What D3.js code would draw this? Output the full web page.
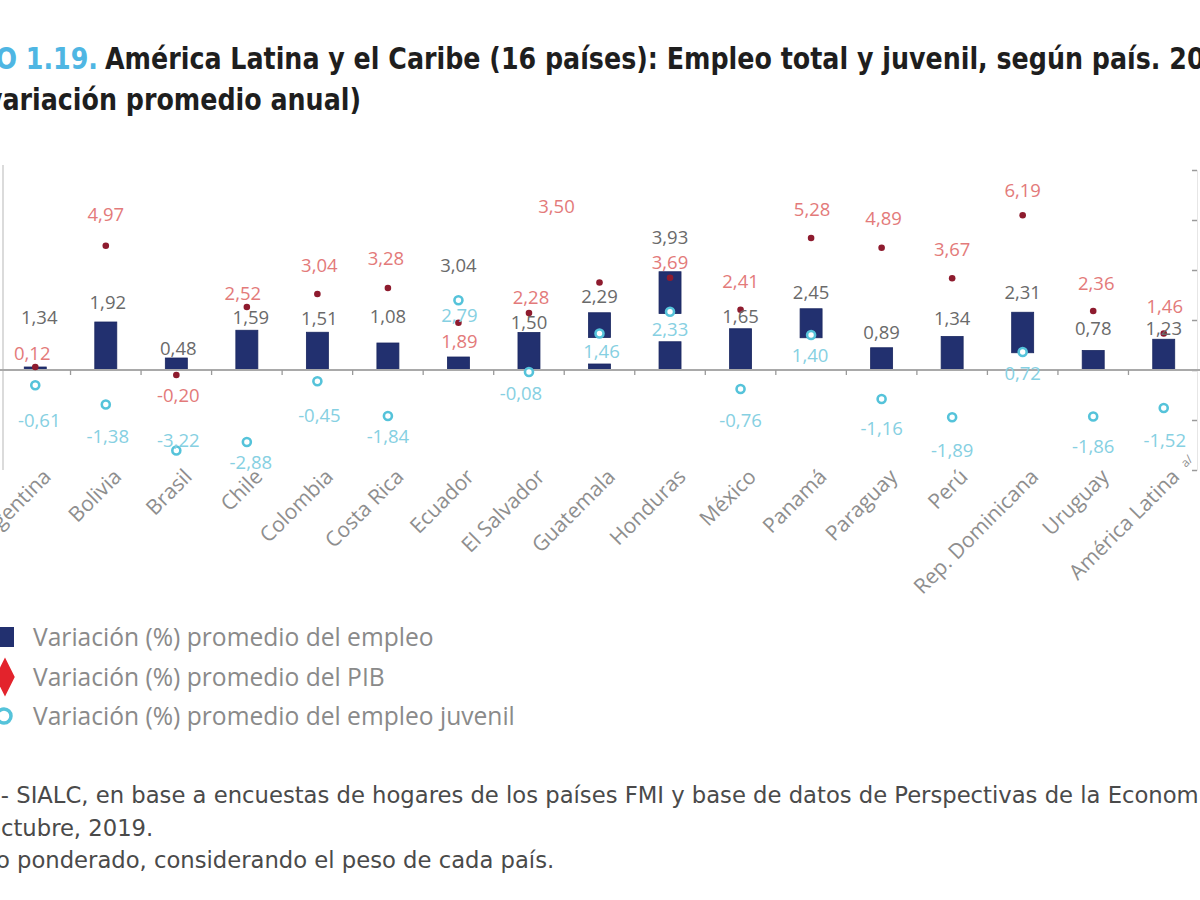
<!DOCTYPE html>
<html lang="es">
<head>
<meta charset="utf-8">
<script src="https://cdn.jsdelivr.net/npm/d3@7/dist/d3.min.js"></script>
<style>
  html, body { margin: 0; padding: 0; background: #fff; overflow: hidden; }
  svg { display: block; }
</style>
</head>
<body>
<svg id="chart" width="1200" height="900"></svg>
<script>
// ---------------- DATA ----------------
const paises = ["Argentina","Bolivia","Brasil","Chile","Colombia","Costa Rica","Ecuador","El Salvador","Guatemala","Honduras","México","Panamá","Paraguay","Perú","Rep. Dominicana","Uruguay","América Latina"];
// Variación (%) promedio del empleo (etiquetas)
const empleo = [1.34,1.92,0.48,1.59,1.51,1.08,3.04,1.50,2.29,3.93,1.65,2.45,0.89,1.34,2.31,0.78,1.23];
// Variación (%) promedio del PIB
const pib = [0.12,4.97,-0.20,2.52,3.04,3.28,1.89,2.28,3.50,3.69,2.41,5.28,4.89,3.67,6.19,2.36,1.46];
// Variación (%) promedio del empleo juvenil
const juvenil = [-0.61,-1.38,-3.22,-2.88,-0.45,-1.84,2.79,-0.08,1.46,2.33,-0.76,1.40,-1.16,-1.89,0.72,-1.86,-1.52];
// Tramos de barra visibles en la figura (valores desde / hasta)
const tramosBarra = [
  [[0,0.12]], [[0,1.92]], [[0,0.48]], [[0,1.59]], [[0,1.51]], [[0,1.08]], [[0,0.52]], [[0,1.50]],
  [[0,0.24],[1.30,2.29]], [[0,1.13],[2.26,3.93]], [[0,1.65]], [[1.29,2.45]], [[0,0.89]], [[0,1.34]],
  [[0.69,2.31]], [[0,0.78]], [[0,1.23]]
];
const ticksY = [-4,-2,0,2,4,6,8];
const leyenda = ["Variación (%) promedio del empleo","Variación (%) promedio del PIB","Variación (%) promedio del empleo juvenil"];

// ---------------- LAYOUT (label offsets, px from marker) ----------------
const dyEmpleo  = [-19,-20,-10,-13,-14,-27,-29,-10,-16,-34,-12,-16,-15,-18,-20,-22,-11];
const dxEmpleo  = [4,2,2,4,2,0,0,0,0,0,0,0,0,0,0,0,0];
const dyPib     = [-14,-31,20,-14,-29,-30,19,-16,-76,-15,-28,-29,-29,-29,-25,-28,-27];
const dxPib     = [-3,0,2,-4,2,-2,1,2,-43,0,0,1,2,0,0,3,1];
const dyJuvenil = [35,32,-10,20,34,20,15,21,18,18,31,20,29,33,21,30,32];
const dxJuvenil = [4,2,2,4,2,0,1,-8,2,0,0,-1,0,0,0,0,1];

const svg = d3.select("#chart");
const fmt = d3.formatLocale({decimal:",", thousands:".", grouping:[3], currency:["",""], minus:"-"}).format(".2f");

const x = d3.scaleBand().domain(paises).range([0, 1199]).padding(0);
const y = d3.scaleLinear().domain([-4, 8]).range([470, 170]);
const cx = p => x(p) + x.bandwidth() / 2;
const barW = 22;

const C = {
  bar: "#22306f", pibDot: "#8e1b2e", pibLbl: "#e37a7a", juv: "#55c3da", juvLbl: "#86d0e2",
  empLbl: "#6a6a6a", axis: "#a9a9a9", cat: "#8e8e8e", leg: "#8a8a8a"
};
const numFont = "'Open Sans', 'DejaVu Sans', sans-serif";
const condFont = "'DejaVu Sans Condensed', 'DejaVu Sans', sans-serif";

// text squeezed horizontally so that a prefix spans a target width
function squeezed(parent, opts) {
  const gg = parent.append("g");
  const t = gg.append("text").attr("x", 0).attr("y", 0)
    .attr("font-family", opts.family).attr("font-weight", opts.weight || "normal")
    .attr("font-size", opts.size).attr("fill", opts.fill)
    .attr("text-anchor", opts.anchor || "start").text(opts.text);
  const n = t.node();
  const a = opts.prefixStart || 0;
  const len = (opts.prefixEnd == null ? opts.text.length : opts.prefixEnd) - a;
  const w = n.getSubStringLength(a, len);
  const sx = opts.width / w;
  const off = a > 0 ? n.getSubStringLength(0, a) * sx : 0;
  gg.attr("transform", `translate(${opts.x - off},${opts.y}) scale(${sx},1)`);
  return {g: gg, sx};
}

// ---------------- TITLE ----------------
const t1txt = "América Latina y el Caribe (16 países): Empleo total y juvenil, según país. 2012-2019";
const T1 = squeezed(svg, {text: t1txt, family: condFont, weight: "bold", size: 31, fill: "#1e1e1e",
  x: 105, y: 69, prefixEnd: t1txt.indexOf("2012") + 2, width: 1100});
const bl = svg.append("g").attr("transform", `translate(98,69) scale(${T1.sx},1)`);
bl.append("text").attr("text-anchor", "end").attr("font-family", condFont).attr("font-weight", "bold")
  .attr("font-size", 31).attr("fill", "#4fb6e3").text("GRÁFICO 1.19.");
const t2 = svg.append("g").attr("transform", `translate(361,110) scale(${T1.sx},1)`);
t2.append("text").attr("text-anchor", "end").attr("font-family", condFont).attr("font-weight", "bold")
  .attr("font-size", 31).attr("fill", "#1e1e1e").text("(tasas de variación promedio anual)");

// ---------------- AXES ----------------
const g = svg.append("g");
g.append("line").attr("x1", 3).attr("x2", 3).attr("y1", y(8) - 5).attr("y2", y(-4))
  .attr("stroke", "#cfcfcf").attr("stroke-width", 1.5);
const ax = g.append("g").attr("transform", "translate(1197,0)")
  .call(d3.axisLeft(y).tickValues(ticksY).tickSize(5).tickFormat(""));
ax.select(".domain").attr("stroke", "#e6e6e6");
ax.selectAll(".tick line").attr("stroke", "#9a9a9a").attr("stroke-width", 1.5);

// ---------------- BARS ----------------
const segs = [];
paises.forEach((p, i) => tramosBarra[i].forEach(s => segs.push({p, a: s[0], b: s[1]})));
g.append("g").selectAll("rect").data(segs).join("rect")
  .attr("x", d => cx(d.p) - barW / 2)
  .attr("width", barW)
  .attr("y", d => y(d.b))
  .attr("height", d => y(d.a) - y(d.b))
  .attr("fill", C.bar).attr("stroke", "#1a2760").attr("stroke-width", 0.8);

// zero line with category ticks
g.append("line").attr("x1", 0).attr("x2", 1200).attr("y1", y(0)).attr("y2", y(0))
  .attr("stroke", C.axis).attr("stroke-width", 2);
g.append("g").selectAll("line").data(paises.slice(1)).join("line")
  .attr("x1", d => x(d)).attr("x2", d => x(d))
  .attr("y1", y(0)).attr("y2", y(0) + 5)
  .attr("stroke", "#9a9a9a").attr("stroke-width", 1.3);

// ---------------- POINTS ----------------
g.append("g").selectAll("circle").data(paises).join("circle")
  .attr("cx", d => cx(d)).attr("cy", (d, i) => y(juvenil[i]))
  .attr("r", 4).attr("fill", "#ffffff").attr("stroke", C.juv).attr("stroke-width", 2.6);
g.append("g").selectAll("circle").data(paises).join("circle")
  .attr("cx", d => cx(d)).attr("cy", (d, i) => y(pib[i]))
  .attr("r", 3.3).attr("fill", C.pibDot);

// ---------------- LABELS ----------------
function labels(vals, dy, dx, color) {
  g.append("g").selectAll("text").data(paises).join("text")
    .attr("x", (d, i) => cx(d) + dx[i])
    .attr("y", (d, i) => y(vals[i]) + dy[i])
    .attr("dy", "0.36em").attr("text-anchor", "middle")
    .attr("font-family", numFont).attr("font-size", 18.5)
    .attr("fill", color).text((d, i) => fmt(vals[i]));
}
labels(empleo, dyEmpleo, dxEmpleo, C.empLbl);
labels(pib, dyPib, dxPib, C.pibLbl);
labels(juvenil, dyJuvenil, dxJuvenil, C.juvLbl);

// category labels
g.append("g").selectAll("text").data(paises).join("text")
  .attr("transform", d => `translate(${cx(d) + 17},${y(-4) + 8}) rotate(-45)`)
  .attr("text-anchor", "end")
  .attr("font-family", numFont).attr("font-size", 21)
  .attr("fill", C.cat).text(d => d);
svg.append("text")
  .attr("transform", `translate(${cx("América Latina") + 22},${y(-4) - 2}) rotate(-45)`)
  .attr("font-family", numFont).attr("font-size", 12).attr("fill", C.cat).text("a/");

// ---------------- LEGEND ----------------
const lg = svg.append("g");
const legY = [637, 677, 716];
lg.append("rect").attr("x", -4).attr("y", legY[0] - 10).attr("width", 18).attr("height", 20).attr("fill", C.bar);
lg.append("path").attr("d", d3.symbol(d3.symbolDiamond, 330)()).attr("transform", `translate(5,${legY[1]}) scale(1,1.15)`).attr("fill", "#e3232c");
lg.append("circle").attr("cx", 4).attr("cy", legY[2]).attr("r", 7).attr("fill", "#fff").attr("stroke", C.juv).attr("stroke-width", 3.5);
const legT = lg.selectAll("text").data(leyenda).join("text")
  .attr("x", 33).attr("y", (d, i) => legY[i]).attr("dy", "0.36em")
  .attr("font-family", numFont).attr("font-size", 20).attr("fill", C.leg).text(d => d);
const wl = legT.nodes()[2].getComputedTextLength();
legT.attr("font-size", 20 * 482 / wl);

// ---------------- FOOTNOTES ----------------
const f1txt = "Fuente: OIT - SIALC, en base a encuestas de hogares de los países FMI y base de datos de Perspectivas de la Economía Mundial del FMI";
const F1 = squeezed(svg, {text: f1txt, family: condFont, size: 23, fill: "#4a4a4a",
  x: 1, y: 803, prefixStart: f1txt.indexOf("- SIALC"), prefixEnd: f1txt.indexOf("Econom") + 6, width: 1199});
const f2txt = "octubre, 2019.";
const F2 = squeezed(svg, {text: f2txt, family: condFont, size: 23, fill: "#4a4a4a",
  x: 1, y: 836, prefixStart: 1, width: 0});
const f3txt = "a/ Promedio ponderado, considerando el peso de cada país.";
squeezed(svg, {text: f3txt, family: condFont, size: 23, fill: "#4a4a4a",
  x: -4, y: 868, prefixStart: f3txt.indexOf("o ponderado"), width: 0});
// apply the same horizontal squeeze as line 1 to lines 2 and 3
svg.selectAll("g").filter(function () { return false; });
</script>
<script>
// fix squeeze of footnote lines 2 and 3 to match line 1
(function () {
  const gs = d3.selectAll("#chart > g").nodes();
  // last two groups are footnotes 2 and 3
  const g2 = d3.select(gs[gs.length - 2]), g3 = d3.select(gs[gs.length - 1]);
  const g1t = d3.select(gs[gs.length - 3]).attr("transform");
  const sx = +/scale\(([\d.]+),1\)/.exec(g1t)[1];
  const t2 = g2.select("text").node(), t3 = g3.select("text").node();
  const off2 = t2.getSubStringLength(0, 1) * sx;
  const s3 = t3.textContent.indexOf("o ponderado");
  const off3 = t3.getSubStringLength(0, s3) * sx;
  g2.attr("transform", `translate(${1 - off2},836) scale(${sx},1)`);
  g3.attr("transform", `translate(${-4 - off3},868) scale(${sx},1)`);
})();
</script>
</body>
</html>
